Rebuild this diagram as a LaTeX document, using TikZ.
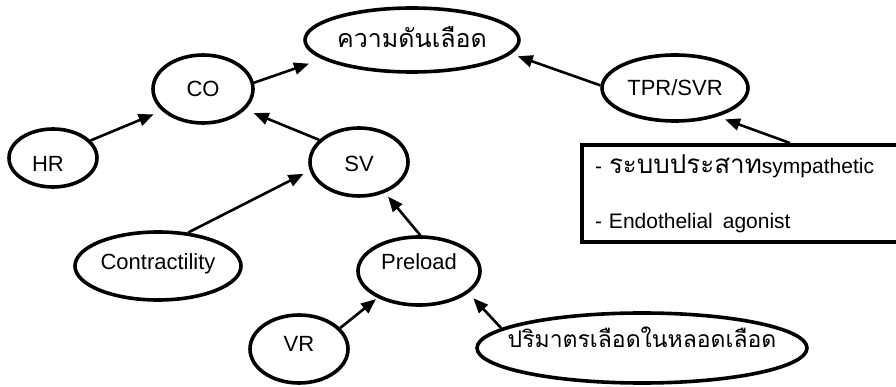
\documentclass[tikz,border=0pt]{standalone}
\usepackage{fontspec}
\setmainfont{Liberation Sans}
\newfontfamily\thaifont[Script=Thai]{Loma}
\usetikzlibrary{shapes.geometric,arrows.meta}
\newcommand{\ctext}[2][0pt]{\makebox[0pt]{\raisebox{#1}{#2}}}
\begin{document}
\begin{tikzpicture}[x=1pt,y=-1pt,
  oval/.style={ellipse,draw,line width=3.6pt,inner sep=0pt,
    font=\fontsize{22}{26}\selectfont,text height=15.75pt,text depth=0pt},
  thaioval/.style={oval,font=\thaifont\fontsize{25}{30}\selectfont,text height=12pt},
  conn/.style={line width=2.6pt,-{Triangle[length=15pt,width=12pt]}},
  boxnode/.style={rectangle,draw,line width=4pt,inner sep=0pt,
    font=\fontsize{21}{55}\selectfont,align=left}]
\clip (0,0) rectangle (896,387);
\fill[white] (0,0) rectangle (896,387);

\node[thaioval,minimum width=214pt,minimum height=64pt] (BP) at (412,40) {\ctext[-2pt]{ความดันเลือด}};
\node[oval,minimum width=100pt,minimum height=68pt] (CO) at (203,89) {\ctext{CO}};
\node[oval,minimum width=88pt,minimum height=58pt] (HR) at (53,158) {\ctext[-6pt]{\kern-10pt HR}};
\node[oval,minimum width=98pt,minimum height=68pt] (SV) at (359,162) {\ctext[-2pt]{SV}};
\node[oval,minimum width=166pt,minimum height=68pt] (Con) at (158,266) {\ctext[4pt]{Contractility}};
\node[oval,minimum width=122pt,minimum height=68pt] (Pre) at (419,271) {\ctext[9pt]{Preload}};
\node[oval,minimum width=98pt,minimum height=68pt] (VR) at (299,349) {\ctext[5pt]{VR}};
\node[thaioval,font=\thaifont\fontsize{23}{28}\selectfont,minimum width=330pt,minimum height=70pt] (Vol) at (642,348) {\ctext[7pt]{ปริมาตรเลือดในหลอดเลือด}};
\node[oval,minimum width=146pt,minimum height=66pt] (TPR) at (675,88) {\ctext{TPR/SVR}};
\node[boxnode,minimum width=328pt,minimum height=97pt,text width=302pt] (R) at (746,193.5)
  {- {\thaifont\fontsize{26}{30}\selectfont ระบบประสาท}sympathetic\\
   - Endothelial\hspace{10pt}agonist};

\draw[conn,shorten >=9pt] (HR.25) -- (CO.208);
\draw[conn,shorten >=14pt] (CO.7) -- (BP.192);
\draw[conn,shorten >=9pt] (SV.151) -- (CO.334);
\draw[conn,shorten >=7pt] (Con.48) -- (SV.190);
\draw[conn,shorten >=5pt] (Pre.88) -- (SV.310);
\draw[conn,shorten >=2pt] (VR.27) -- (Pre.213);
\draw[conn,shorten >=7pt] (Vol.172) -- (Pre.336);
\draw[conn,shorten >=7pt] (TPR.178) -- (BP.352);
\draw[conn,shorten >=8pt] (R.49) -- (TPR.326);
\end{tikzpicture}
\end{document}
